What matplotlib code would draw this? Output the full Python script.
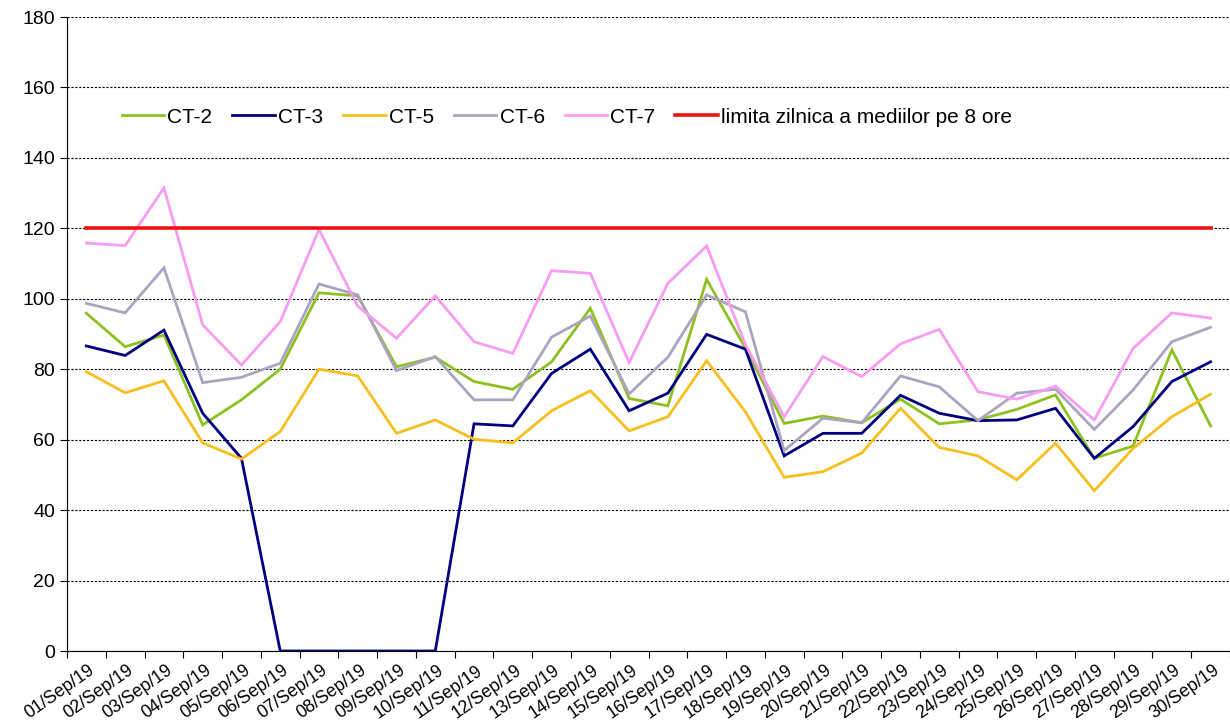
import numpy as np
import matplotlib.pyplot as plt

plt.rcParams['font.family'] = ['Liberation Sans', 'DejaVu Sans']

# Categories (days of September 2019)
days = [f"{d:02d}/Sep/19" for d in range(1, 31)]

# Series values
ct2 = [95.9, 86.4, 89.7, 64.2, 71.3, 80.0, 101.7, 100.8, 80.7, 83.4,
       76.5, 74.3, 82.1, 97.3, 71.7, 69.6, 105.5, 86.0, 64.6, 66.7,
       64.8, 71.5, 64.5, 65.6, 68.6, 72.7, 54.7, 58.2, 85.5, 63.9]
ct3 = [86.6, 83.9, 91.1, 67.5, 54.7, 0, 0, 0, 0, 0,
       64.5, 63.9, 78.8, 85.7, 68.2, 73.2, 89.9, 85.7, 55.4, 61.8,
       61.8, 72.6, 67.5, 65.4, 65.6, 68.9, 54.7, 63.7, 76.5, 82.1]
ct5 = [79.3, 73.3, 76.7, 59.1, 54.5, 62.3, 80.0, 78.1, 61.8, 65.6,
       60.1, 59.1, 68.2, 73.9, 62.5, 66.5, 82.4, 67.9, 49.3, 50.9,
       56.2, 68.9, 57.8, 55.4, 48.6, 59.0, 45.5, 57.5, 66.5, 72.9]
ct6 = [98.7, 96.0, 108.8, 76.2, 77.7, 81.7, 104.2, 101.1, 79.6, 83.6,
       71.3, 71.3, 89.1, 95.1, 73.0, 83.4, 101.1, 96.3, 56.9, 66.1,
       64.8, 78.1, 75.0, 65.4, 73.2, 74.3, 62.9, 74.1, 87.8, 91.9]
ct7 = [115.8, 115.1, 131.5, 92.6, 81.2, 93.5, 119.7, 97.9, 88.8, 100.8,
       87.8, 84.5, 108.0, 107.2, 81.9, 104.4, 115.0, 87.0, 66.5, 83.6,
       77.9, 87.2, 91.3, 73.6, 71.5, 75.2, 65.6, 85.9, 96.0, 94.5]
limit = [120] * 30

series = [
    ("CT-2", ct2, "#8cc21f", 2.0),
    ("CT-3", ct3, "#000080", 2.0),
    ("CT-5", ct5, "#f7bf1c", 2.0),
    ("CT-6", ct6, "#aca3c3", 2.0),
    ("CT-7", ct7, "#f79cf2", 2.0),
    ("limita zilnica a mediilor pe 8 ore", limit, "#ee1111", 2.6),
]

fig = plt.figure(figsize=(12.3, 7.28), dpi=100)
ax = fig.add_axes([67 / 1230, (728 - 651) / 728, 1163 / 1230, 634 / 728])

x = np.arange(len(days))
for name, vals, col, lw in series:
    ax.plot(x, vals, color=col, lw=lw, label=name, solid_joinstyle='miter')

ax.set_xlim(-0.5, len(days) - 0.5)
ax.set_ylim(0, 180)
ax.set_yticks(np.arange(0, 181, 20))
ax.yaxis.grid(True, color='black', linestyle=(0, (2, 1.5)), lw=0.8)
ax.set_axisbelow(True)

# ticks between categories, labels at category centres
ax.set_xticks(np.arange(-0.5, len(days), 1))
ax.set_xticklabels([])
ax.set_xticks(x + 0.05, minor=True)
ax.set_xticklabels(days, minor=True, rotation=35, ha='right', va='top',
                   rotation_mode='anchor', fontsize=12.8)
ax.tick_params(axis='x', which='minor', length=0, pad=8)
ax.tick_params(axis='x', which='major', length=5, direction='out')
ax.tick_params(axis='y', length=5, labelsize=14)

for s in ['top', 'right']:
    ax.spines[s].set_visible(False)
ax.spines['left'].set_color('black')
ax.spines['bottom'].set_color('black')

ax.legend(loc='center left', bbox_to_anchor=(0.047, 0.842), ncol=6, frameon=False,
          fontsize=15, handlelength=2.05, handletextpad=0.15, columnspacing=0.95,
          borderpad=0, borderaxespad=0)

fig.savefig('out.png', dpi=100)
